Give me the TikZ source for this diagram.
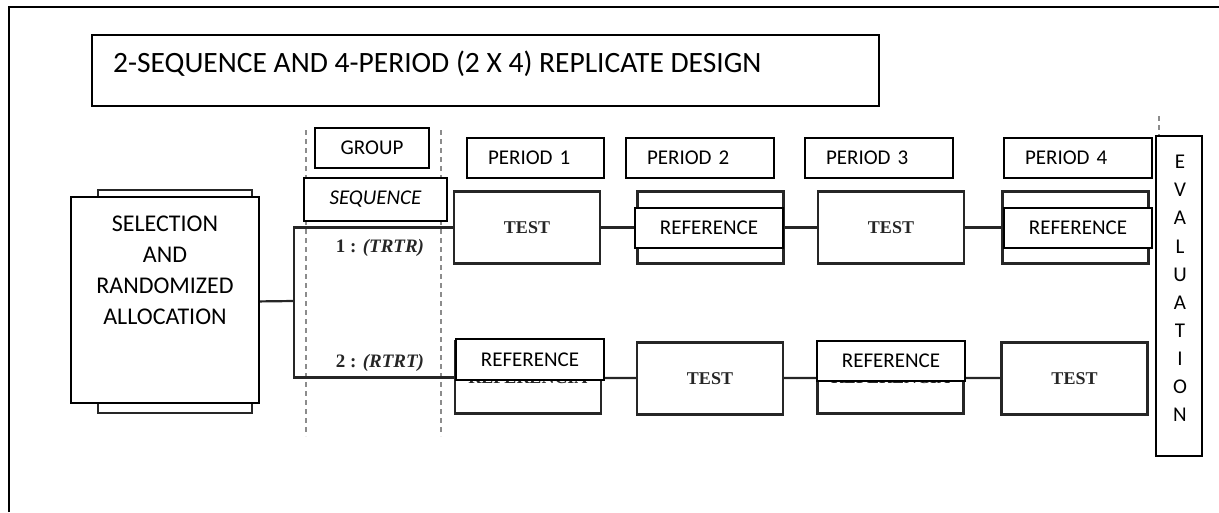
\documentclass[tikz,border=0pt]{standalone}
\usepackage{fontspec}
\setmainfont{Carlito}
\newfontfamily\scanfont{Liberation Serif}
\usetikzlibrary{positioning}
\newcommand\lblsize{\fontsize{21}{24}\selectfont}

\begin{document}
\begin{tikzpicture}[
    x=1pt, y=-1pt,
    font=\lblsize,
    lbl/.style={rectangle, draw=black, line width=1.3pt, fill=white, inner sep=0pt, align=center},
    hdr/.style={lbl, minimum width=148pt, minimum height=40pt, text width=106pt,
      inner xsep=21pt, align=left},
    refbox/.style={lbl, minimum width=148pt, minimum height=40pt},
    oldbox/.style={rectangle, draw=black!85, line width=2.4pt, inner sep=0pt,
      minimum width=146pt, minimum height=72pt, text=black!85,
      font=\scanfont\bfseries\fontsize{18}{20}\selectfont},
    scantext/.style={inner sep=0pt, text=black!85, font=\scanfont\bfseries\fontsize{19}{22}\selectfont},
    link/.style={draw=black!85, line width=2.2pt},
    guide/.style={draw=black!45, line width=1.2pt, dash pattern=on 5pt off 4pt},
  ]
  \useasboundingbox (0,0) rectangle (1219,512);
  \draw[line width=1.5pt] (9,512) -- (9,7) -- (1219,7);

  % title
  \node[lbl, minimum width=787pt, minimum height=71pt] (title) at (485.5,70.5) {};
  \node[anchor=west, inner sep=0pt, font=\fontsize{29.5}{32}\selectfont] (titletxt) at (113,64)
    {2-SEQUENCE AND 4-PERIOD (2 X 4) REPLICATE DESIGN};

  % scanned background
  \draw[guide] (306,130) -- (306,436);
  \draw[guide] (441,130) -- (441,436);
  \draw[guide] (1159,116) -- (1159,136);

  \node[oldbox, minimum width=154pt, minimum height=223pt] (selold) at (175,301.5) {};
  \node[oldbox] (t11) at (527,227.5) {TEST};
  \node[oldbox] (r12old) at (710.5,227.5) {};
  \node[oldbox] (t13) at (891,227.5) {TEST};
  \node[oldbox] (r14old) at (1075.5,227.5) {};
  \node[oldbox] (r21old) at (528,377.5) {\raisebox{-6pt}{REFERENCIA}};
  \node[oldbox] (t22) at (710,378.5) {TEST};
  \node[oldbox] (r23old) at (890.5,377.5) {\raisebox{-6pt}{REFERENCIA}};
  \node[oldbox] (t24) at (1074.5,378.5) {TEST};

  \node[scantext] (seq1) at (380,248) {1 : \textit{(TRTR)}};
  \node[scantext] (seq2) at (380,363) {2 : \textit{(RTRT)}};

  \coordinate (fork) at (294,301);
  \draw[link] (selold.east) -- (fork);
  \draw[link] (t11.west) -| (fork) |- (r21old.west);
  \draw[link] (t11) -- (r12old);
  \draw[link] (r12old) -- (t13);
  \draw[link] (t13) -- (r14old);
  \draw[link] (r21old) -- (t22);
  \draw[link] (t22) -- (r23old);
  \draw[link] (r23old) -- (t24);

  % boxes on top
  \node[lbl, minimum width=188pt, minimum height=206pt] (sel) at (165,300) {};
  \node[align=center, inner sep=0pt, font=\fontsize{24}{31}\selectfont] (seltxt) at (165,270.5)
    {SELECTION\\AND\\RANDOMIZED\\ALLOCATION};

  \node[lbl, minimum width=114pt, minimum height=40pt] (group) at (372,148) {GROUP};
  \node[lbl, minimum width=143pt, minimum height=43pt, font=\lblsize\itshape] (seq) at (375.5,199.5) {SEQUENCE};

  \node[hdr, minimum width=137pt, text width=95pt] (p1) at (535.5,158) {PERIOD 1};
  \node[hdr] (p2) at (700,158) {PERIOD 2};
  \node[hdr] (p3) at (879,158) {PERIOD 3};
  \node[hdr] (p4) at (1078,158) {PERIOD 4};

  \node[refbox] (r12) at (709,228) {REFERENCE};
  \node[refbox] (r14) at (1078,228) {REFERENCE};
  \node[refbox, minimum height=41pt] (r21) at (530,359.5) {REFERENCE};
  \node[refbox] (r23) at (891,361) {REFERENCE};

  \node[lbl, minimum width=46pt, minimum height=320pt] (eval) at (1179,296) {};
  \node[align=center, inner sep=0pt, font=\fontsize{21}{28.1}\selectfont] (evaltxt) at (1180,288.5)
    {E\\V\\A\\L\\U\\A\\T\\I\\O\\N};
\end{tikzpicture}
\end{document}
